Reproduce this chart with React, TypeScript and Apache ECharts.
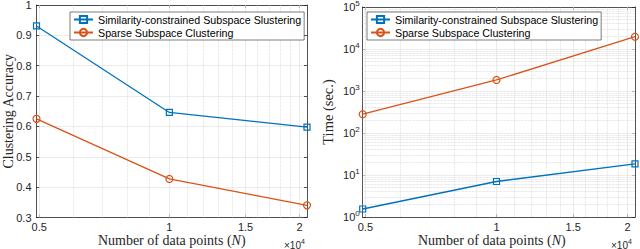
import React, { useEffect, useRef } from "react";
import * as echarts from "echarts";

// ---- data ----
const dataPoints = [4930, 10000, 20800];
const accuracySimilarity = [0.931, 0.646, 0.598];
const accuracySparse = [0.625, 0.427, 0.34];
const timeSimilarity = [1.55, 7.0, 18.5];
const timeSparse = [280, 1830, 19600];
const seriesNames = [
  "Similarity-constrained Subspace Slustering",
  "Sparse Subspace Clustering",
];
const xMajorTicks = [5000, 10000, 15000, 20000];
const xMinorGrid = [6000, 7000, 8000, 9000, 11000, 12000, 13000, 14000, 16000, 17000, 18000, 19000];
const timeMajorTicks = [1, 10, 100, 1000, 10000, 100000];
const timeMinorMultipliers = [2, 3, 4, 5, 6, 7, 8, 9];

const BLUE = "#0072BD";
const ORANGE = "#D95319";
const AX = "#262626";
const GRID_MAJOR = "#e2e2e2";
const GRID_MINOR = "#d2d2d2";
const SANS = "'Liberation Sans', Arial, Helvetica, sans-serif";
const SERIF = "'Liberation Serif', 'Times New Roman', serif";

const timeMinorGrid = timeMajorTicks
  .slice(0, -1)
  .flatMap((d) => timeMinorMultipliers.map((m) => m * d));

const axisLine = { show: true, onZero: false, lineStyle: { color: AX, width: 0.8 } };
const tickLabel = { fontFamily: SANS, fontSize: 11, color: AX };

function xAxisPair(gridIndex: number, namePad: number[]) {
  const base: any = {
    gridIndex,
    type: "log",
    logBase: 10,
    min: dataPoints[0],
    max: dataPoints[dataPoints.length - 1],
    axisLine,
    splitLine: { show: false },
    minorTick: { show: false },
    axisTick: { show: true, inside: true, length: 3, customValues: xMajorTicks, lineStyle: { color: AX, width: 0.8 } },
  };
  return [
    {
      ...base,
      position: "bottom",
      axisLabel: {
        ...tickLabel,
        margin: 4,
        hideOverlap: false,
        customValues: xMajorTicks,
        formatter: (v: number) => String(+(v / 10000).toFixed(1)),
      },
      name: "Number of data points ({i|N})",
      nameLocation: "middle",
      nameGap: 16,
      nameMoveOverlap: false,
      nameTextStyle: {
        fontFamily: SERIF,
        fontSize: 14,
        color: AX,
        padding: namePad,
        rich: { i: { fontFamily: SERIF, fontSize: 14, fontStyle: "italic", color: AX } },
      },
    },
    { ...base, position: "top", axisLabel: { show: false } },
  ];
}

const markLineBase = {
  silent: true,
  symbol: ["none", "none"],
  label: { show: false },
  z: 1,
  animation: false,
  emphasis: { disabled: true },
};

const verticalGrid = [
  ...xMajorTicks.map((v) => ({ xAxis: v, lineStyle: { type: "solid", color: GRID_MAJOR, width: 0.7 } })),
  ...xMinorGrid.map((v) => ({ xAxis: v, lineStyle: { type: "dotted", color: GRID_MINOR, width: 0.7 } })),
];
const horizontalLogGrid = [
  ...timeMajorTicks.slice(1, -1).map((v) => ({ yAxis: v, lineStyle: { type: "solid", color: GRID_MAJOR, width: 0.7 } })),
  ...timeMinorGrid.map((v) => ({ yAxis: v, lineStyle: { type: "dotted", color: GRID_MINOR, width: 0.7 } })),
];

function lineSeries(name: string, color: string, symbol: string, size: number, xi: number, yi: number, ys: number[], markData?: any[]) {
  const s: any = {
    name,
    type: "line",
    xAxisIndex: xi,
    yAxisIndex: yi,
    data: dataPoints.map((x, i) => [x, ys[i]]),
    symbol,
    symbolSize: size,
    clip: false,
    z: 3,
    lineStyle: { color, width: 1.3 },
    itemStyle: { color: "rgba(255,255,255,0)", borderColor: color, borderWidth: 1.2 },
    emphasis: { disabled: true },
  };
  if (markData) s.markLine = { ...markLineBase, data: markData };
  return s;
}

const legendBase = {
  orient: "vertical",
  top: 12,
  data: seriesNames,
  backgroundColor: "#ffffff",
  borderColor: AX,
  borderWidth: 0.6,
  borderRadius: 0,
  padding: [2, 3, 2, 3],
  itemGap: 2,
  itemWidth: 19,
  itemHeight: 9,
  selectedMode: false,
  textStyle: { fontFamily: SANS, fontSize: 10.7, color: "#000" },
};

const exponentText = (left: number) => ({
  type: "text",
  left,
  top: 238,
  style: {
    text: "×10{s|4}",
    fontFamily: SANS,
    fontSize: 10,
    fill: AX,
    rich: { s: { fontFamily: SANS, fontSize: 7, fill: AX, padding: [0, 0, 7, 0] } },
  },
});

const option: any = {
  animation: false,
  backgroundColor: "#ffffff",
  grid: [
    { left: 36.5, top: 5, width: 270.5, height: 212.5, outerBoundsMode: "none" },
    { left: 362.7, top: 7, width: 272.3, height: 210, outerBoundsMode: "none" },
  ],
  xAxis: [...xAxisPair(0, [0, 0, 0, 0]), ...xAxisPair(1, [0, 14, 0, 0])],
  yAxis: [
    {
      gridIndex: 0,
      type: "value",
      position: "left",
      min: 0.3,
      max: 1,
      interval: 0.1,
      axisLine,
      axisTick: { show: true, inside: true, length: 3, lineStyle: { color: AX, width: 0.8 } },
      axisLabel: { ...tickLabel, margin: 5 },
      splitLine: { show: true, lineStyle: { color: GRID_MAJOR, width: 0.7 } },
      name: "Clustering Accuracy",
      nameLocation: "middle",
      nameGap: 21.5,
      nameMoveOverlap: false,
      nameTextStyle: { fontFamily: SERIF, fontSize: 14, color: AX },
    },
    {
      gridIndex: 0,
      type: "value",
      position: "right",
      min: 0.3,
      max: 1,
      interval: 0.1,
      axisLine,
      axisTick: { show: true, inside: true, length: 3, lineStyle: { color: AX, width: 0.8 } },
      axisLabel: { show: false },
      splitLine: { show: false },
    },
    {
      gridIndex: 1,
      type: "log",
      logBase: 10,
      position: "left",
      min: 1,
      max: 100000,
      axisLine,
      axisTick: { show: true, inside: true, length: 3, customValues: timeMajorTicks, lineStyle: { color: AX, width: 0.8 } },
      axisLabel: {
        ...tickLabel,
        margin: 3,
        customValues: timeMajorTicks,
        formatter: (v: number) => `{b|10}{s|${Math.round(Math.log10(v))}}`,
        rich: {
          b: { fontFamily: SANS, fontSize: 11, color: AX },
          s: { fontFamily: SANS, fontSize: 8, color: AX, padding: [0, 0, 8, 0] },
        },
      },
      splitLine: { show: false },
      minorTick: { show: false },
      name: "Time (sec.)",
      nameLocation: "middle",
      nameGap: 27,
      nameMoveOverlap: false,
      nameTextStyle: { fontFamily: SERIF, fontSize: 14.5, color: AX },
    },
    {
      gridIndex: 1,
      type: "log",
      logBase: 10,
      position: "right",
      min: 1,
      max: 100000,
      axisLine,
      axisTick: { show: true, inside: true, length: 3, customValues: timeMajorTicks, lineStyle: { color: AX, width: 0.8 } },
      axisLabel: { show: false },
      splitLine: { show: false },
      minorTick: { show: false },
    },
  ],
  legend: [
    { ...legendBase, left: 70 },
    { ...legendBase, left: 367 },
  ],
  graphic: [exponentText(284), exponentText(611)],
  series: [
    lineSeries(seriesNames[0], BLUE, "rect", 6, 0, 0, accuracySimilarity, verticalGrid),
    lineSeries(seriesNames[1], ORANGE, "circle", 7, 0, 0, accuracySparse),
    lineSeries(seriesNames[0], BLUE, "rect", 6, 2, 2, timeSimilarity, [...verticalGrid, ...horizontalLogGrid]),
    lineSeries(seriesNames[1], ORANGE, "circle", 7, 2, 2, timeSparse),
  ],
};

export default function App() {
  const ref = useRef<HTMLDivElement>(null);
  useEffect(() => {
    document.body.style.margin = "0";
    const chart = echarts.init(ref.current!, null, { renderer: "svg" });
    chart.setOption(option);
    return () => chart.dispose();
  }, []);
  return <div ref={ref} style={{ width: 640, height: 249 }} />;
}
